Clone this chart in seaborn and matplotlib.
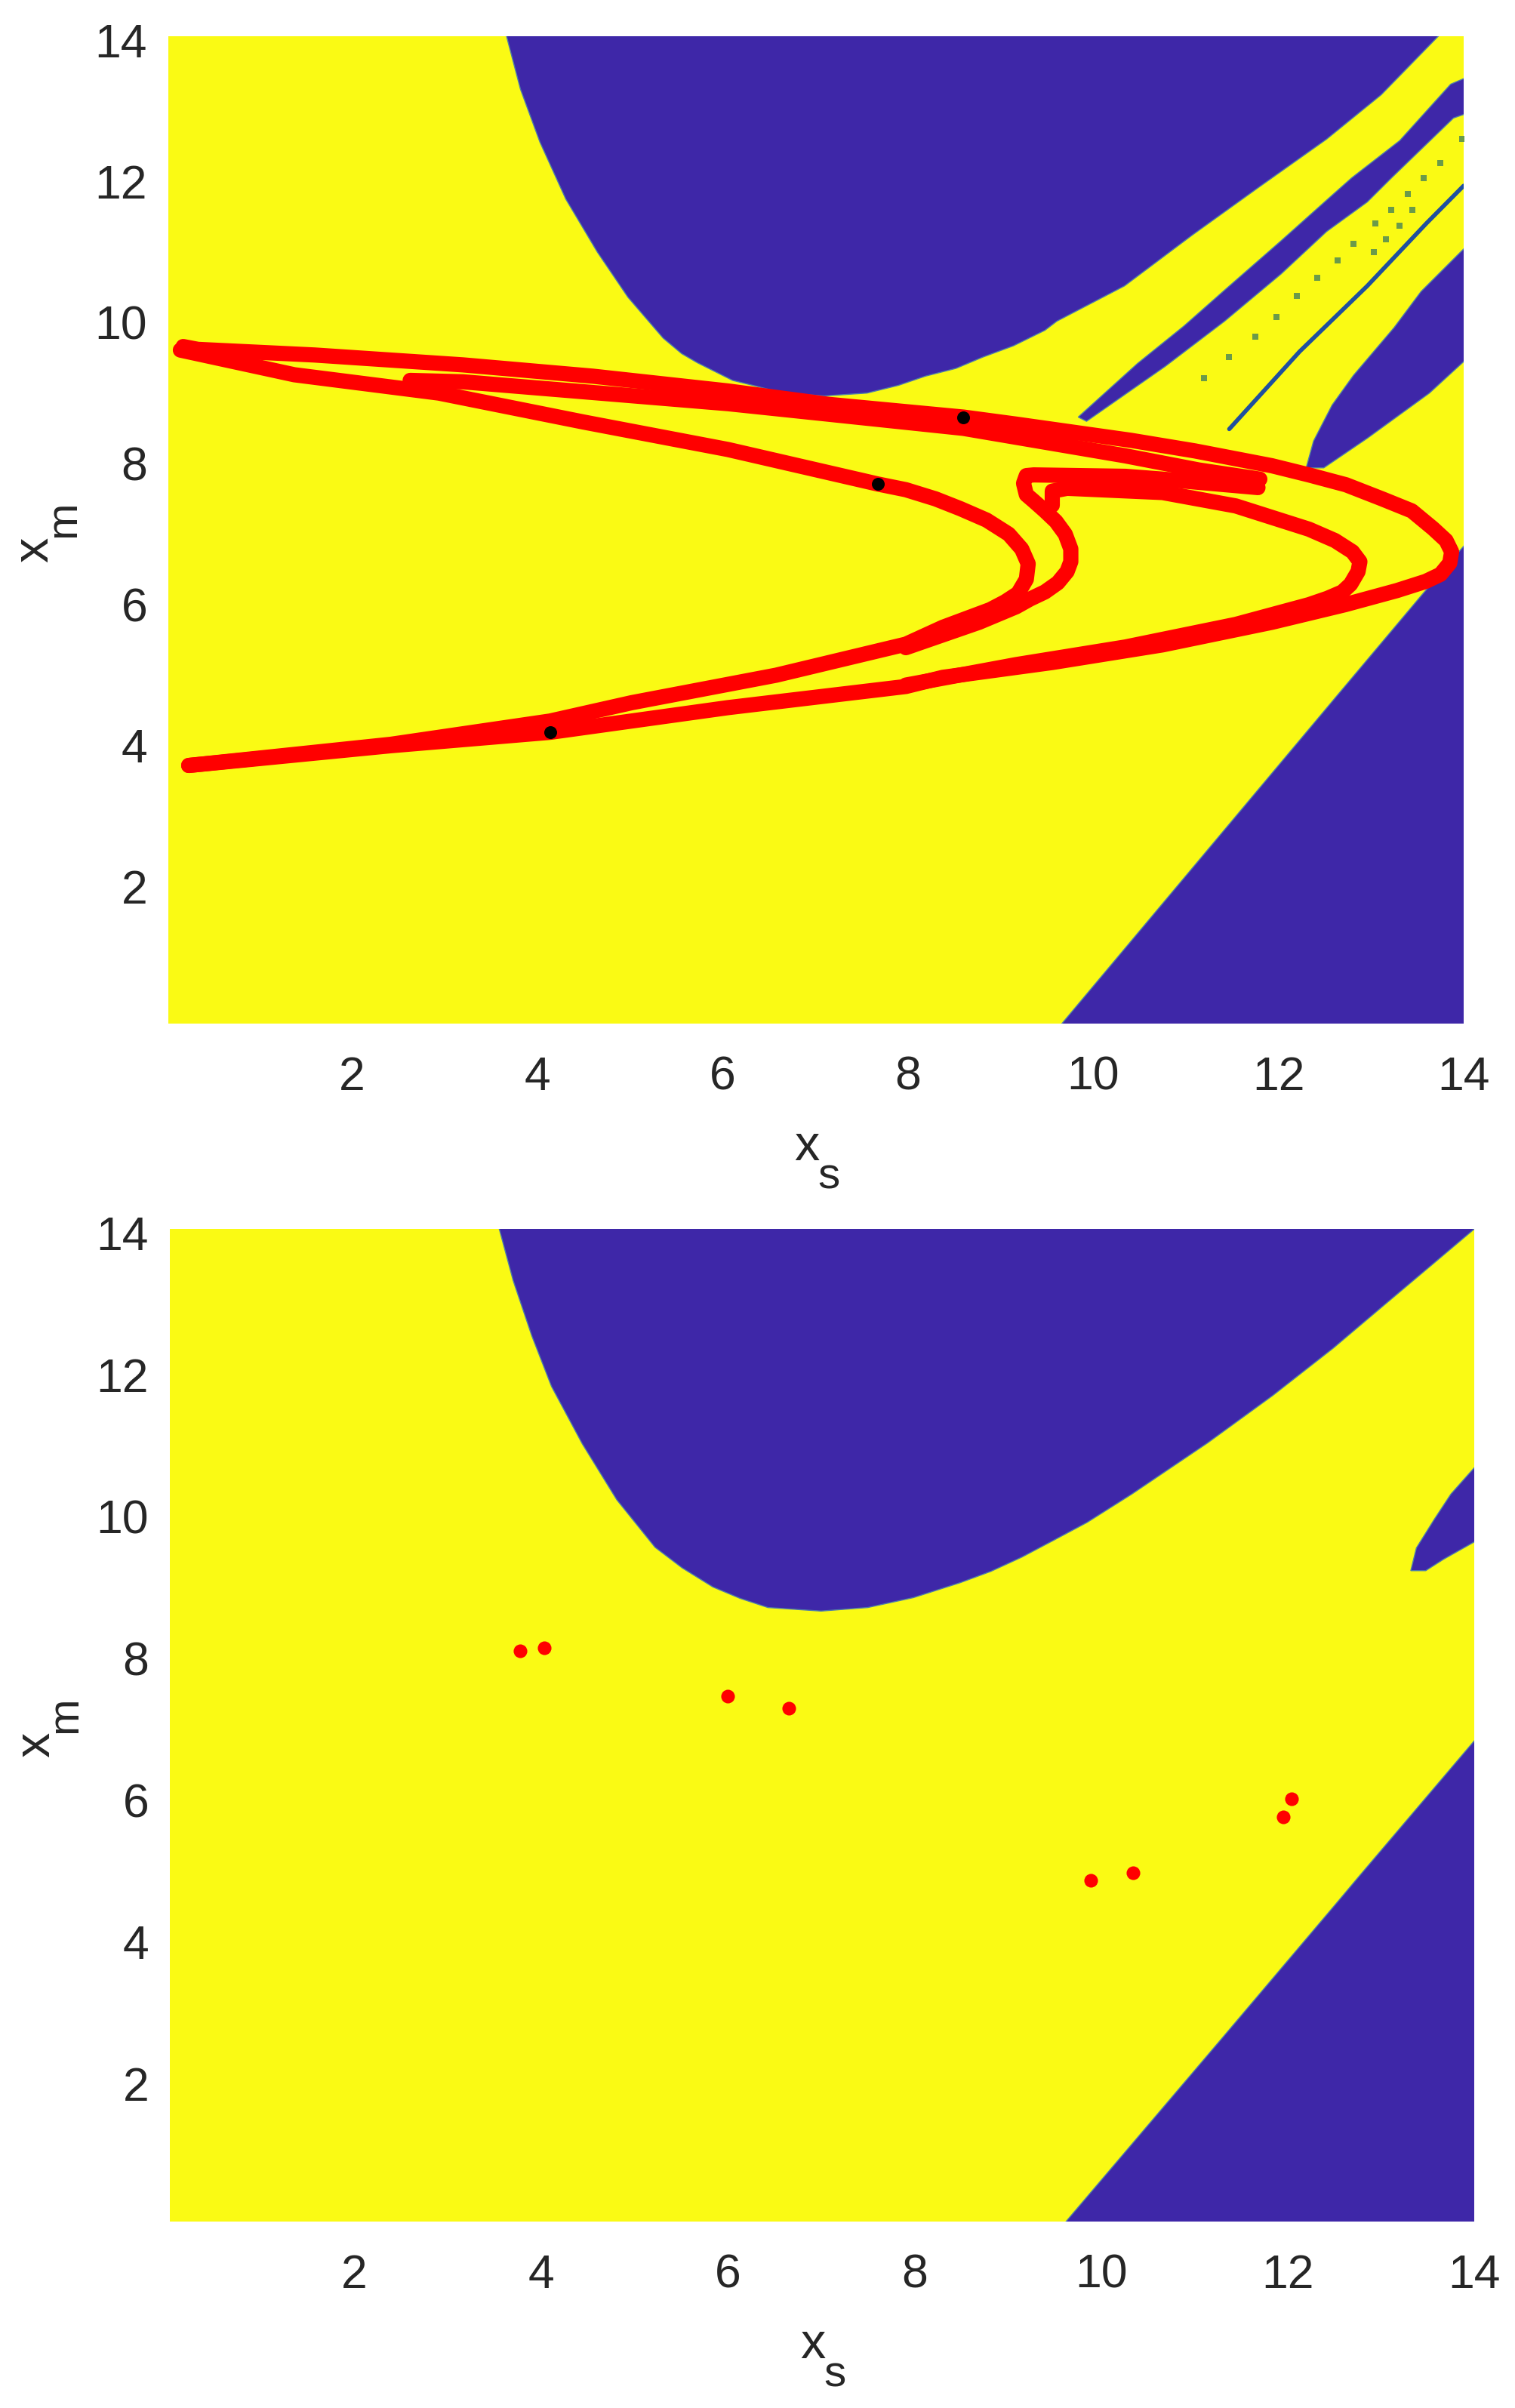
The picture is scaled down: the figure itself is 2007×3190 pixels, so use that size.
import numpy as np
import pandas as pd
import seaborn as sns
import matplotlib
matplotlib.use("Agg")
import matplotlib.pyplot as plt

# Basin boundaries, top panel
top_blue_x = [3.65, 3.82, 4.03, 4.31, 4.65, 4.98, 5.36, 5.56, 5.73, 6.11, 6.39, 6.65, 7.1, 7.56, 7.9, 8.19, 8.52, 8.81,
              9.14, 9.48, 9.61, 10.34, 11.07, 11.79, 12.52, 13.11, 13.8, 14.02, 3.63]
top_blue_y = [14.1, 13.25, 12.5, 11.69, 10.94, 10.3, 9.72, 9.5, 9.37, 9.12, 9.03, 8.94, 8.9, 8.94, 9.05, 9.18, 9.29, 9.45,
              9.61, 9.83, 9.96, 10.46, 11.18, 11.86, 12.54, 13.17, 14.1, 14.1, 14.1]
band_x = [9.84, 10.48, 10.98, 11.42, 12.03, 12.55, 12.79, 13.31, 13.86, 14.02,
          14.02, 13.89, 13.22, 12.96, 12.52, 12.03, 11.42, 10.78, 9.93]
band_y = [8.60, 9.36, 9.89, 10.40, 11.10, 11.71, 11.99, 12.52, 13.32, 13.41,
          12.90, 12.84, 11.99, 11.65, 11.23, 10.63, 9.96, 9.32, 8.54]
thin_x = [11.47, 12.23, 12.96, 13.60, 14.0]
thin_y = [8.43, 9.53, 10.46, 11.35, 11.88]
speck_x = [11.20, 11.47, 11.75, 11.98, 12.20, 12.42, 12.64, 12.81, 13.05, 13.22, 13.40, 13.57, 13.75, 13.98,
           13.03, 13.16, 13.31, 13.45]
speck_y = [9.15, 9.45, 9.74, 10.02, 10.32, 10.57, 10.82, 11.06, 11.35, 11.54, 11.76, 11.99, 12.20, 12.54,
           10.94, 11.12, 11.31, 11.54]
wedge_x = [12.30, 12.38, 12.58, 12.81, 13.25, 13.54, 14.02, 14.02, 13.63, 12.96, 12.49]
wedge_y = [7.88, 8.26, 8.77, 9.19, 9.87, 10.38, 11.01, 9.41, 8.94, 8.30, 7.88]
low_blue_x = [9.6, 12.64, 13.55, 14.02, 14.02]
low_blue_y = [-0.1, 4.66, 6.08, 6.80, -0.1]

# Attractor strands, top panel
s1_x = [0.18, 0.34, 1.6, 3.2, 4.6, 6.06, 7.15, 8.6, 9.17, 10.41, 11.1, 11.93, 12.33, 12.73, 13.12, 13.44, 13.67, 13.81,
        13.87, 13.85, 13.75, 13.59, 13.28, 12.72, 11.93, 10.75, 9.56, 8.38, 7.98, 6.06, 4.14, 2.42, 0.24]
s1_y = [9.6, 9.56, 9.48, 9.34, 9.18, 8.97, 8.78, 8.6, 8.5, 8.27, 8.12, 7.91, 7.78, 7.64, 7.44, 7.27, 7.02, 6.85,
        6.69, 6.53, 6.37, 6.27, 6.14, 5.94, 5.69, 5.37, 5.12, 4.91, 4.78, 4.48, 4.13, 3.94, 3.66]
s2_x = [0.15, 1.38, 2.94, 4.5, 6.06, 7.68, 7.98, 8.3, 8.57, 8.85, 9.09, 9.23, 9.30, 9.28, 9.19, 9.05, 8.89, 8.38, 7.98,
        6.58, 5.02, 4.14, 2.42, 0.24]
s2_y = [9.55, 9.2, 8.94, 8.53, 8.14, 7.65, 7.57, 7.44, 7.3, 7.14, 6.94, 6.73, 6.52, 6.3, 6.1, 5.98, 5.87, 5.62, 5.38,
        4.94, 4.55, 4.29, 3.96, 3.66]
s3_x = [2.63, 3.2, 6.06, 7.15, 8.6, 10.35, 11.14, 11.8]
s3_y = [9.12, 9.1, 8.79, 8.64, 8.44, 8.05, 7.85, 7.72]
s4_x = [11.78, 10.75, 10.35, 9.36, 9.28, 9.25, 9.28, 9.36, 9.48, 9.6, 9.70, 9.76, 9.76, 9.72, 9.62, 9.48, 9.32, 9.17, 8.77, 7.98]
s4_y = [7.6, 7.72, 7.76, 7.78, 7.77, 7.66, 7.5, 7.41, 7.27, 7.12, 6.94, 6.73, 6.55, 6.41, 6.25, 6.12, 6.02, 5.91, 5.69, 5.33]
s5_x = [9.56, 9.56, 9.72, 10.75, 11.54, 12.33, 12.61, 12.8, 12.88, 12.86, 12.78, 12.69, 12.53, 12.33, 11.54, 10.35, 9.17, 7.98]
s5_y = [7.35, 7.55, 7.59, 7.53, 7.34, 7.01, 6.85, 6.69, 6.55, 6.41, 6.23, 6.12, 6.03, 5.94, 5.66, 5.34, 5.09, 4.8]
black_x = [8.6, 7.68, 4.14]
black_y = [8.59, 7.65, 4.13]

# Basin boundaries, bottom panel
bot_blue_x = [3.53, 3.70, 3.90, 4.11, 4.44, 4.81, 5.22, 5.51, 5.84, 6.13, 6.43, 7.0, 7.5, 7.99, 8.49, 8.82, 9.15, 9.48,
              9.85, 10.33, 11.14, 11.84, 12.49, 13.02, 13.57, 14.02, 14.02, 3.52]
bot_blue_y = [14.1, 13.27, 12.49, 11.78, 10.97, 10.18, 9.51, 9.22, 8.95, 8.79, 8.66, 8.61, 8.66, 8.8, 9.01, 9.17, 9.37, 9.6,
              9.86, 10.26, 10.98, 11.65, 12.32, 12.91, 13.52, 14.02, 14.1, 14.1]
lens_x = [13.32, 13.38, 13.57, 13.75, 14.02, 14.02, 13.67, 13.48]
lens_y = [9.18, 9.5, 9.9, 10.26, 10.66, 9.6, 9.34, 9.18]
bot_low_x = [9.56, 11.3, 12.53, 12.76, 14.02, 14.02]
bot_low_y = [-0.1, 2.59, 4.5, 4.86, 6.81, -0.1]
dots_x = [3.77, 4.03, 6.0, 6.65, 12.04, 11.95, 9.89, 10.34]
dots_y = [8.05, 8.09, 7.41, 7.24, 5.96, 5.71, 4.81, 4.92]

ticks = [2, 4, 6, 8, 10, 12, 14]

y_start = 0.05

yellow = "#FAFA14"
blue = "#3E27A8"
edge = "#4F7FA8"
ink = "#262626"

sns.set_style("white")
plt.rcParams["font.family"] = ["Liberation Sans", "DejaVu Sans"]

W, H = 2008, 3190
fig = plt.figure(figsize=(W / 100, H / 100), dpi=100)
ax1 = fig.add_axes([223 / W, 1 - 1356 / H, (1939 - 223) / W, (1356 - 48) / H])
ax2 = fig.add_axes([225 / W, 1 - 2943 / H, (1953 - 225) / W, (2943 - 1628) / H])


def up(y):
    return np.array(y) + y_start


def red_line(ax, x, y):
    sns.lineplot(x=x, y=up(y), ax=ax, sort=False, estimator=None, color="#FF0000", lw=14.5,
                 solid_capstyle="round", solid_joinstyle="round", zorder=5)


def axis_label(ax, text, fontsize, xy, dx, dy, rotation=0):
    ax.annotate(text, xy=xy, xycoords="axes fraction", xytext=(dx, dy), textcoords="offset pixels",
                ha="center", va="center", fontsize=fontsize, color=ink, rotation=rotation)


for ax in (ax1, ax2):
    ax.set_facecolor(yellow)
    ax.set_xlim(0.02, 14)
    ax.set_ylim(y_start, 14 + y_start)
    ax.set_xticks(ticks)
    ax.set_yticks(ticks)
    ax.tick_params(length=0, labelsize=45, labelcolor=ink)
    ax.tick_params(axis="x", pad=30)
    ax.tick_params(axis="y", pad=20)
    sns.despine(ax=ax, left=True, bottom=True)
    # x_s and x_m, the subscripts sit lower and larger than mathtext allows
    axis_label(ax, "x", 48, (0.5, 0), -12, -164)
    axis_label(ax, "s", 42, (0.5, 0), 17, -203)
    axis_label(ax, "x", 48, (0, 0.5), -177, -26, rotation=90)
    axis_label(ax, "m", 42, (0, 0.5), -139, 14, rotation=90)

for x, y in [(top_blue_x, top_blue_y), (band_x, band_y), (wedge_x, wedge_y), (low_blue_x, low_blue_y)]:
    ax1.fill(x, up(y), facecolor=blue, edgecolor=edge, lw=1)
sns.lineplot(x=thin_x, y=up(thin_y), ax=ax1, sort=False, estimator=None, color="#1F4F9F", lw=4)
sns.scatterplot(x=speck_x, y=up(speck_y), ax=ax1, color="#6A9A4A", s=36, marker="s", linewidth=0)

for x, y in [(s1_x, s1_y), (s2_x, s2_y), (s3_x, s3_y), (s4_x, s4_y), (s5_x, s5_y)]:
    red_line(ax1, x, y)
sns.scatterplot(x=black_x, y=up(black_y), ax=ax1, color="black", s=150, linewidth=0, zorder=6)

for x, y in [(bot_blue_x, bot_blue_y), (lens_x, lens_y), (bot_low_x, bot_low_y)]:
    ax2.fill(x, up(y), facecolor=blue, edgecolor=edge, lw=1)
sns.scatterplot(x=dots_x, y=up(dots_y), ax=ax2, color="#FF0000", s=170, linewidth=0, zorder=6)

plt.savefig("out.png", dpi=100)
